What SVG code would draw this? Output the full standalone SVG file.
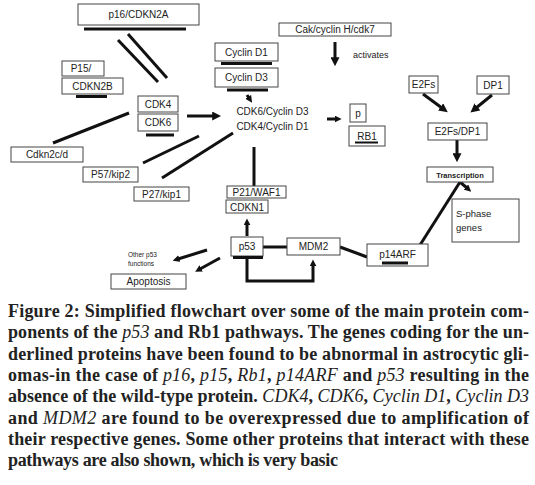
<svg xmlns="http://www.w3.org/2000/svg" width="535" height="485" viewBox="0 0 535 485">
<style>
.box{fill:#fff;stroke:#444;stroke-width:1}
.t{font-family:"Liberation Sans",Arial,sans-serif;font-size:10px;fill:#222;text-anchor:middle}
.ul{stroke:#111;stroke-width:3}
.c{stroke:#111;stroke-width:3;fill:none}
.cap{font-family:"Liberation Serif","Times New Roman",serif;font-size:18px;font-weight:bold;fill:#222}
.i{font-style:italic;font-weight:normal}
</style>
<defs>
<marker id="ah" viewBox="0 0 10 10" refX="2" refY="5" markerWidth="9" markerHeight="9" markerUnits="userSpaceOnUse" orient="auto">
<path d="M0,0 L10,5 L0,10 z" fill="#111"/>
</marker>
<marker id="ahs" viewBox="0 0 10 10" refX="2" refY="5" markerWidth="7" markerHeight="7" markerUnits="userSpaceOnUse" orient="auto">
<path d="M0,0 L10,5 L0,10 z" fill="#111"/>
</marker>
</defs>

<g id="connectors">
<line class="c" x1="118" y1="40" x2="158" y2="82" stroke-width="2.5"/>
<line class="c" x1="128" y1="34" x2="167" y2="78" stroke-width="2.5"/>
<line class="c" x1="53" y1="143" x2="129" y2="113" stroke-width="2.5"/>
<line class="c" x1="143" y1="163" x2="199" y2="136" stroke-width="2.5"/>
<line class="c" x1="162" y1="178" x2="233" y2="133" stroke-width="2.5"/>
<line class="c" x1="187" y1="116" x2="214" y2="116" stroke-width="4" marker-end="url(#ah)"/>
<line class="c" x1="247" y1="95" x2="249" y2="98" stroke-width="2.5" marker-end="url(#ahs)"/>
<line class="c" x1="327" y1="119" x2="336" y2="119" stroke-width="3" marker-end="url(#ahs)"/>
<line class="c" x1="335" y1="42" x2="335" y2="59" stroke-width="2.5" marker-end="url(#ah)"/>
<line class="c" x1="423" y1="94" x2="442" y2="108" stroke-width="3" marker-end="url(#ah)"/>
<line class="c" x1="492" y1="95" x2="476" y2="108" stroke-width="3" marker-end="url(#ah)"/>
<line class="c" x1="457" y1="140" x2="457" y2="155" stroke-width="3" marker-end="url(#ah)"/>
<line class="c" x1="460" y1="182" x2="420" y2="245" stroke-width="3"/>
<line class="c" x1="460" y1="182" x2="467" y2="188" stroke-width="3" marker-end="url(#ahs)"/>
<line class="c" x1="254" y1="147" x2="254" y2="186" stroke-width="2.5"/>
<line class="c" x1="247" y1="236" x2="247" y2="224" stroke-width="3" marker-end="url(#ahs)"/>
<line class="c" x1="263" y1="247" x2="287" y2="247" stroke-width="2.5"/>
<line class="c" x1="340" y1="247" x2="367" y2="257" stroke-width="2.5"/>
<path class="c" d="M247,258 V281 H313 V265" stroke-width="3" marker-end="url(#ahs)"/>
<line class="c" x1="207" y1="250" x2="178" y2="259" stroke-width="2.5" marker-end="url(#ahs)"/>
<line class="c" x1="220" y1="258" x2="200" y2="269" stroke-width="2.5" marker-end="url(#ahs)"/>
</g>

<g id="p16">
<rect class="box" x="78" y="4" width="121" height="21"/>
<text class="t" x="138.5" y="18">p16/CDKN2A</text>
<line class="ul" x1="84" y1="29" x2="186" y2="29"/>
</g>
<g id="p15">
<rect class="box" x="62" y="61" width="42" height="15"/>
<text class="t" x="81" y="72">P15/</text>
<rect class="box" x="62" y="78" width="61" height="16"/>
<text class="t" x="92.5" y="89.5">CDKN2B</text>
<line class="ul" x1="76" y1="96.5" x2="107" y2="96.5"/>
</g>
<g id="cdk46">
<rect class="box" x="138" y="96" width="40" height="16"/>
<text class="t" x="158" y="107.5">CDK4</text>
<rect class="box" x="138" y="114" width="40" height="17"/>
<text class="t" x="158" y="126">CDK6</text>
<line class="ul" x1="146" y1="135" x2="174" y2="135"/>
</g>
<g id="cdkn2cd">
<rect class="box" x="11" y="147" width="72" height="15"/>
<text class="t" x="47" y="158">Cdkn2c/d</text>
</g>
<g id="p57">
<rect class="box" x="83" y="167" width="55" height="15"/>
<text class="t" x="110.5" y="178">P57/kip2</text>
</g>
<g id="p27">
<rect class="box" x="134" y="187" width="55" height="14"/>
<text class="t" x="161.5" y="197.5">P27/kip1</text>
</g>
<g id="cyclins">
<rect class="box" x="215" y="43" width="63" height="18"/>
<text class="t" x="246.5" y="55.5">Cyclin D1</text>
<line class="ul" x1="221" y1="63.5" x2="272" y2="63.5"/>
<rect class="box" x="215" y="68" width="63" height="19"/>
<text class="t" x="246.5" y="81">Cyclin D3</text>
<line class="ul" x1="227" y1="90" x2="268" y2="90"/>
</g>
<g id="complex">
<text class="t" x="272.5" y="115">CDK6/Cyclin D3</text>
<text class="t" x="272.5" y="130">CDK4/Cyclin D1</text>
</g>
<g id="cak">
<rect class="box" x="279" y="23" width="112" height="13"/>
<text class="t" x="335" y="33">Cak/cyclin H/cdk7</text>
<text class="t" x="353" y="58" style="text-anchor:start;font-size:9px">activates</text>
</g>
<g id="rb1">
<rect class="box" x="350" y="104" width="16" height="18"/>
<text class="t" x="358" y="116.5">p</text>
<rect class="box" x="349" y="126" width="36" height="20"/>
<text class="t" x="367" y="139.5">RB1</text>
<line stroke="#111" stroke-width="2" x1="355" y1="142.5" x2="378" y2="142.5"/>
</g>
<g id="e2fs">
<rect class="box" x="409" y="76" width="29" height="17"/>
<text class="t" x="423.5" y="88">E2Fs</text>
</g>
<g id="dp1">
<rect class="box" x="477" y="76" width="32" height="18"/>
<text class="t" x="493" y="88.5">DP1</text>
</g>
<g id="e2fsdp1">
<rect class="box" x="428" y="123" width="59" height="17"/>
<text class="t" x="457.5" y="135">E2Fs/DP1</text>
</g>
<g id="transcription">
<rect class="box" x="427" y="167" width="66" height="15"/>
<text class="t" x="460" y="177.5" style="font-size:7.5px;font-weight:bold">Transcription</text>
</g>
<g id="sphase">
<rect class="box" x="452" y="199" width="67" height="43"/>
<text class="t" x="456" y="217" style="text-anchor:start;font-size:9.5px">S-phase</text>
<text class="t" x="456" y="231" style="text-anchor:start;font-size:9.5px">genes</text>
</g>
<g id="p21">
<rect class="box" x="227" y="186" width="59" height="12"/>
<text class="t" x="256.5" y="196">P21/WAF1</text>
<rect class="box" x="226" y="200" width="42" height="13"/>
<text class="t" x="247" y="210.5">CDKN1</text>
</g>
<g id="p53">
<rect class="box" x="231" y="237" width="32" height="19"/>
<text class="t" x="247" y="250">p53</text>
<line class="ul" x1="233" y1="257.5" x2="263" y2="257.5"/>
</g>
<g id="mdm2">
<rect class="box" x="287" y="238" width="53" height="17"/>
<text class="t" x="313.5" y="250">MDM2</text>
</g>
<g id="p14arf">
<rect class="box" x="367" y="244" width="61" height="22"/>
<text class="t" x="397.5" y="258">p14ARF</text>
<line class="ul" x1="382" y1="263" x2="408" y2="263"/>
</g>
<g id="other">
<text class="t" x="128" y="257" style="text-anchor:start;font-size:6.5px">Other p53</text>
<text class="t" x="128" y="266" style="text-anchor:start;font-size:6.5px">functions</text>
</g>
<g id="apoptosis">
<rect class="box" x="111" y="274" width="75" height="15"/>
<text class="t" x="148.5" y="285">Apoptosis</text>
</g>

<g id="caption">
<text class="cap" x="8" y="317" textLength="521" lengthAdjust="spacing">Figure 2: Simplified flowchart over some of the main protein com-</text>
<text class="cap" x="8" y="338.3" textLength="521" lengthAdjust="spacing">ponents of the <tspan class="i">p53</tspan> and Rb1 pathways. The genes coding for the un-</text>
<text class="cap" x="8" y="359.6" textLength="521" lengthAdjust="spacing">derlined proteins have been found to be abnormal in astrocytic gli-</text>
<text class="cap" x="8" y="380.9" textLength="521" lengthAdjust="spacing">omas-in the case of <tspan class="i">p16</tspan>, <tspan class="i">p15</tspan>, <tspan class="i">Rb1</tspan>, <tspan class="i">p14ARF</tspan> and <tspan class="i">p53</tspan> resulting in the</text>
<text class="cap" x="8" y="402.2" textLength="521" lengthAdjust="spacing">absence of the wild-type protein. <tspan class="i">CDK4</tspan>, <tspan class="i">CDK6</tspan>, <tspan class="i">Cyclin D1</tspan>, <tspan class="i">Cyclin D3</tspan></text>
<text class="cap" x="8" y="423.5" textLength="521" lengthAdjust="spacing">and <tspan class="i">MDM2</tspan> are found to be overexpressed due to amplification of</text>
<text class="cap" x="8" y="444.8" textLength="521" lengthAdjust="spacing">their respective genes. Some other proteins that interact with these</text>
<text class="cap" x="8" y="466.1" textLength="330" lengthAdjust="spacing">pathways are also shown, which is very basic</text>
</g>
</svg>
